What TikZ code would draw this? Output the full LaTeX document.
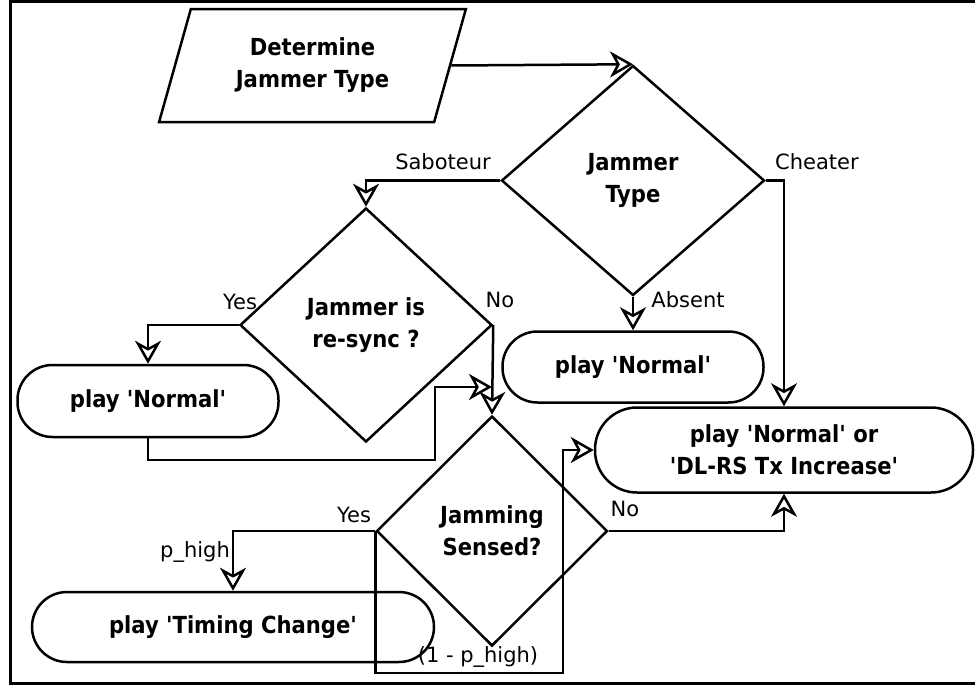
\documentclass[tikz,border=0pt]{standalone}
\usepackage{fontspec}
\setmainfont{DejaVu Sans}[Ligatures=TeXOff]
\newfontfamily\condbold{DejaVu Sans Condensed}[Ligatures=TeXOff]
\usetikzlibrary{shapes.geometric,arrows.meta}
\begin{document}
\begin{tikzpicture}[x=1pt,y=-1pt,
  every node/.style={inner sep=0pt},
  shp/.style={draw, line width=2.5pt, align=center,
    font=\condbold\bfseries\fontsize{23.5}{32}\selectfont},
  dec/.style={shp, diamond},
  term/.style={shp, rectangle, rounded corners=35pt},
  lbl/.style={font=\fontsize{21}{24}\selectfont},
  flow/.style={draw, line width=2.5pt,
    -{Stealth[open,length=23pt,width=26pt,inset=7pt,fill=white]}},
]
\useasboundingbox (0,0) rectangle (975,686);
\clip (0,0) rectangle (975,686);
\draw[line width=3pt] (10,1.5) rectangle (1000,683.5);

% shapes
\node[shp, trapezium, trapezium left angle=70, trapezium right angle=110,
      trapezium stretches=true, minimum width=307pt, minimum height=113pt]
      (det) at (312.5,65.5) {Determine\\Jammer Type};
\node[dec, minimum width=263pt, minimum height=230pt] (jt) at (633,180.5) {Jammer\\Type};
\node[dec, minimum width=252pt, minimum height=234pt] (rs) at (366,325) {Jammer is\\re-sync ?};
\node[dec, minimum width=231pt, minimum height=230pt] (js) at (492,531) {Jamming\\Sensed?};
\node[term, minimum width=261pt, minimum height=72pt] (lnorm) at (148,401) {play 'Normal'};
\node[term, minimum width=261pt, minimum height=71pt] (mid) at (633,367) {play 'Normal'};
\node[term, rounded corners=42pt, minimum width=378pt, minimum height=85pt] (big) at (784,450)
      {play 'Normal' or\\'DL-RS Tx Increase'};
\node[term, minimum width=402pt, minimum height=70pt] (tc) at (233,627) {play 'Timing Change'};

% bends of the routed connectors
\coordinate (m1) at (435,460);
\coordinate (j1) at (492,387);
\coordinate (c2) at (563,673);

% connectors
\draw[flow] (det.east) -- (jt.north);
\draw[flow] (jt.west) -| (rs.north);
\draw[flow] (jt.east) -| (big.north);
\draw[flow] (jt.south) -- (mid.north);
\draw[flow] (rs.west) -| (lnorm.north);
\draw[flow] (rs.east) -- (js.north);
\draw[flow] (lnorm.south) |- (m1) |- (j1);
\draw[flow] (js.west) -| (tc.north);
\draw[flow] (js.west) |- (c2) |- (big.west);
\draw[flow] (js.east) -| (big.south);

% branch labels
\node[lbl] (lsab) at (443,162) {Saboteur};
\node[lbl] (lche) at (817,162) {Cheater};
\node[lbl] (labs) at (688,300) {Absent};
\node[lbl] (lyes1) at (240,302) {Yes};
\node[lbl] (lno1) at (500,300) {No};
\node[lbl] (lyes2) at (354,515) {Yes};
\node[lbl] (lph) at (195,552) {p\_high};
\node[lbl] (lno2) at (625,509) {No};
\node[lbl] (l1ph) at (478,657) {(1 - p\_high)};
\end{tikzpicture}
\end{document}
